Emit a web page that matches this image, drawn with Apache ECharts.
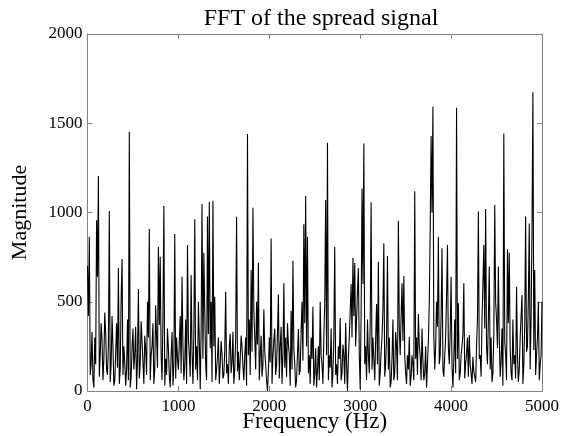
<!DOCTYPE html>
<html><head><meta charset="utf-8">
<script src="https://cdn.jsdelivr.net/npm/echarts@6/dist/echarts.min.js"></script>
<style>html,body{margin:0;padding:0;background:#fff}#c{width:565px;height:436px}</style>
</head><body><div id="c"></div>
<script>
const maxFreqHz = 5000;
const magnitudes = [
700,420,864,90,150,330,60,20,300,150,957,640,1204,80,200,380,280,60,180,440,320,120,90,260,1008,50,150,420,250,30,60,210,380,130,689,40,120,520,739,90,
250,160,30,120,400,60,1452,20,80,240,350,120,200,360,10,180,571,70,150,390,280,160,40,310,230,90,500,300,907,60,200,250,380,40,120,480,300,130,808,370,
752,200,60,410,1036,30,180,90,350,240,90,20,200,330,30,150,880,70,300,180,120,270,420,100,640,250,60,150,400,40,818,290,200,80,650,220,40,320,962,120,
250,60,500,290,10,340,1048,180,775,450,150,60,977,320,1060,240,500,50,1066,250,528,60,120,190,300,40,150,280,200,70,90,230,556,100,150,40,250,320,100,160,
332,40,120,290,976,110,220,60,180,310,250,140,60,200,300,30,1440,200,400,90,678,220,1027,450,300,120,500,260,719,60,200,310,80,150,457,220,150,60,0,110,
300,160,855,40,200,280,350,90,150,320,541,70,250,360,40,210,603,130,300,80,380,260,200,30,450,120,730,240,150,20,60,200,347,90,120,330,500,170,934,380,
1092,250,864,100,200,40,300,180,472,30,100,240,20,120,250,60,500,200,150,40,300,500,1070,200,1391,60,200,130,350,20,100,300,808,90,150,40,250,180,409,60,
100,260,200,40,381,150,0,190,300,450,600,300,747,420,717,250,400,560,687,200,10,420,1135,600,1387,150,250,60,400,200,100,380,1057,120,300,180,60,290,487,150,
724,30,100,220,300,460,827,80,150,300,756,120,300,20,50,180,400,60,100,330,250,60,954,350,200,420,603,280,644,200,100,40,200,120,304,30,80,200,150,60,
1119,180,300,90,431,260,200,60,350,170,60,100,250,20,150,280,495,900,1428,1000,1593,300,120,250,500,360,864,150,200,420,799,120,80,200,300,530,818,240,150,330,
640,130,20,180,400,100,1587,180,491,60,100,200,250,320,603,70,150,210,300,80,314,150,100,40,192,110,80,50,250,400,1005,180,200,80,400,600,818,350,1020,250,
150,400,697,120,300,50,100,320,1042,500,400,240,697,300,80,170,350,30,1443,280,200,60,794,380,775,240,100,60,400,150,200,70,584,200,50,120,300,420,538,40,
150,380,977,220,250,520,939,120,400,900,1673,230,678,90,200,300,500,60,150,200,500
];
const xTicks = [0,1000,2000,3000,4000,5000];
const yTicks = [0,500,1000,1500,2000];

const binStepHz = maxFreqHz / (magnitudes.length - 1);
const data = magnitudes.map((m,i)=>[i*binStepHz, m]);
const font = "'Liberation Serif','Times New Roman',serif";
const chart = echarts.init(document.getElementById('c'), null, {renderer:'canvas'});
const axLine = {show:true, onZero:false, lineStyle:{color:'#808080', width:1}};
const tick = {show:true, inside:true, length:5, lineStyle:{color:'#808080'}};
const fmt = v => String(v);
chart.setOption({
  animation:false,
  backgroundColor:'#fff',
  title:{text:'FFT of the spread signal', left:316, top:2, textAlign:'center',
    textStyle:{fontFamily:font, fontSize:24, fontWeight:'normal', color:'#000'}},
  grid:{left:87.5, right:23, top:34, bottom:45, containLabel:false, outerBoundsMode:'none'},
  xAxis:[
    {type:'value', min:0, max:5000, interval:1000, position:'bottom',
     axisLine:axLine, axisTick:tick, splitLine:{show:false},
     axisLabel:{fontFamily:font, fontSize:17, color:'#000', margin:7, formatter:fmt},
     name:'Frequency (Hz)', nameLocation:'middle', nameGap:19, nameMoveOverlap:false,
     nameTextStyle:{fontFamily:font, fontSize:23, color:'#000'}},
    {type:'value', min:0, max:5000, interval:1000, position:'top',
     axisLine:axLine, axisTick:tick, splitLine:{show:false}, axisLabel:{show:false}}
  ],
  yAxis:[
    {type:'value', min:0, max:2000, interval:500, position:'left',
     axisLine:axLine, axisTick:tick, splitLine:{show:false},
     axisLabel:{fontFamily:font, fontSize:17, color:'#000', margin:5, formatter:fmt},
     name:'Magnitude', nameLocation:'middle', nameGap:56, nameRotate:90, nameMoveOverlap:false,
     nameTextStyle:{fontFamily:font, fontSize:22, color:'#000'}},
    {type:'value', min:0, max:2000, interval:500, position:'right',
     axisLine:axLine, axisTick:tick, splitLine:{show:false}, axisLabel:{show:false}}
  ],
  series:[{type:'line', data:data, xAxisIndex:0, yAxisIndex:0, showSymbol:false,
    lineStyle:{color:'#000', width:1.1}}]
});
</script></body></html>
